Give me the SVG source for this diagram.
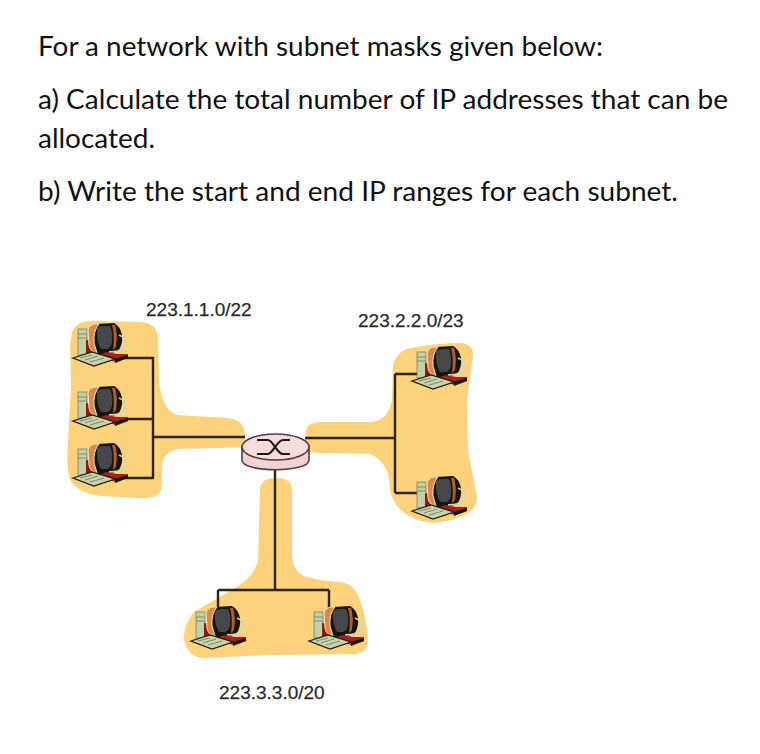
<svg xmlns="http://www.w3.org/2000/svg" xmlns:xlink="http://www.w3.org/1999/xlink" width="760" height="754" viewBox="0 0 760 754">
<style>
.q{font-family:"Lato","Open Sans","Liberation Sans",sans-serif;font-size:27px;fill:#111}
.l{font-family:"Liberation Sans",Arial,sans-serif;font-size:19px;fill:#2b2b2b;stroke:#2b2b2b;stroke-width:0.25}
.blob{fill:#fdd27c;stroke:none}
.w{fill:none;stroke:#2e2414;stroke-width:2.4}
</style>
<defs>
<filter id="soft" x="-5%" y="-5%" width="110%" height="110%"><feGaussianBlur stdDeviation="0.5"/></filter>
<symbol id="pc" width="56" height="44" viewBox="0 0 56 44" overflow="visible">
<g filter="url(#soft)">
<rect x="5" y="6" width="9" height="26" fill="#c3cfa6" stroke="#79805f" stroke-width="0.8"/>
<path d="M5 11h9M5 15h9" stroke="#7d8465" stroke-width="0.9"/>
<path d="M13 17 L28 20 L32 32 L20 35 L13 33Z" fill="#8c1a10"/>
<path d="M16 6 Q17 1 24 1 L41 0 Q47 3 49 12 Q50 22 45 28 L36 31 L24 31 Q17 29 16 22Z" fill="#15120e"/>
<path d="M15 7 Q16 2 22 1 L26 1 Q20 8 21 20 L24 30 Q17 29 16 22Z" fill="#d98a45" stroke="#f6e6c6" stroke-width="1"/>
<path d="M24 5 Q26 3 32 3 L37 3 Q40 9 39 19 Q38 25 34 26 L28 26 Q23 18 24 5Z" fill="#47474c"/>
<path d="M39 2 L42 2 Q45 10 43 24 L40 27 Q42 12 39 2Z" fill="#b65c2c"/>
<path d="M46 12 Q54 15 52 22 Q49 29 36 29" fill="none" stroke="#cfd6c2" stroke-width="1.8"/>
<path d="M28 31 L34 29 L44 31 L55 31 L55 35 L42 39 L30 34Z" fill="#a3221a"/>
<path d="M0 35 L19 29 L42 36 L21 43Z" fill="#c8d3ab" stroke="#1f1d12" stroke-width="1.3"/>
<path d="M7 35 L19 32 M12 37 L25 33 M17 39 L31 35" stroke="#7d8766" stroke-width="1"/>
<path d="M42 36 L55 32 L55 35 L42 40Z" fill="#171410"/>
</g>
</symbol>
</defs>
<rect width="760" height="754" fill="#fff"/>
<g id="question">
<text class="q" x="38" y="56" textLength="565" lengthAdjust="spacingAndGlyphs">For a network with subnet masks given below:</text>
<text class="q" x="38" y="109" textLength="690" lengthAdjust="spacingAndGlyphs">a) Calculate the total number of IP addresses that can be</text>
<text class="q" x="38" y="148" textLength="117" lengthAdjust="spacingAndGlyphs">allocated.</text>
<text class="q" x="38" y="201" textLength="640" lengthAdjust="spacingAndGlyphs">b) Write the start and end IP ranges for each subnet.</text>
</g>
<g id="subnet-areas" filter="url(#soft)">
<path class="blob" d="M72 332 Q76 321 92 321 L140 322 Q156 323 158 336 L159 380 Q161 408 176 415 L228 418 Q244 420 245 434 L245 447 L220 448 L178 449 Q163 452 162 465 L161 490 Q158 499 140 498 L100 496 Q78 493 70 480 Q66 470 68 440 L71 390 L70 345 Z"/>
<path class="blob" d="M306 430 Q308 422 322 422 L372 422 Q388 420 392 400 L393 365 Q396 354 406 349 Q432 343 462 343 Q474 345 473 356 L467 400 L468 450 L477 497 Q477 511 460 517 Q435 527 415 519 Q394 510 390 490 Q390 462 370 454 L326 453 Q306 454 305 446 Z"/>
<path class="blob" d="M260 488 Q262 477 278 478 Q291 478 292 490 L292 555 Q293 572 306 577 Q320 581 340 582 Q352 583 358 595 Q366 615 368 640 Q368 652 356 654 L270 655 L205 658 Q188 658 184 640 Q183 625 194 612 Q206 605 237 587 Q252 578 258 562 Z"/>
</g>
<g id="connectors">
<path class="w" d="M125 358H153M125 419H153M125 478H153M153 357V479M153 437H245"/>
<path class="w" d="M305 438H395M395 374V493M395 374H417M395 493H417"/>
<path class="w" d="M275 468V590M218 590H329M218 590V612M329 590V612"/>
</g>
<g id="router">
<path d="M242 446 V460 C242 473 309 473 309 460 V446Z" fill="#f5d2d2" stroke="#4a3f45" stroke-width="1.6"/>
<ellipse cx="275.500" cy="447" rx="33.500" ry="13" fill="#f8dcdc" stroke="#4a3f45" stroke-width="1.6"/>
<path d="M257 440 H268 C273 440 277 454 283 454 H290 M257 454 H268 C273 454 277 440 283 440 H290" fill="none" stroke="#1d1a18" stroke-width="2.2"/>
</g>
<g id="host-1"><use xlink:href="#pc" href="#pc" x="73" y="323"/></g>
<g id="host-2"><use xlink:href="#pc" href="#pc" x="73" y="386"/></g>
<g id="host-3"><use xlink:href="#pc" href="#pc" x="73" y="443"/></g>
<g id="host-4"><use xlink:href="#pc" href="#pc" x="412" y="346"/></g>
<g id="host-5"><use xlink:href="#pc" href="#pc" x="412" y="476"/></g>
<g id="host-6"><use xlink:href="#pc" href="#pc" x="191" y="606"/></g>
<g id="host-7"><use xlink:href="#pc" href="#pc" x="309" y="606"/></g>
<g id="labels">
<text class="l" x="146" y="316">223.1.1.0/22</text>
<text class="l" x="358" y="327">223.2.2.0/23</text>
<text class="l" x="219" y="699">223.3.3.0/20</text>
</g>
</svg>
